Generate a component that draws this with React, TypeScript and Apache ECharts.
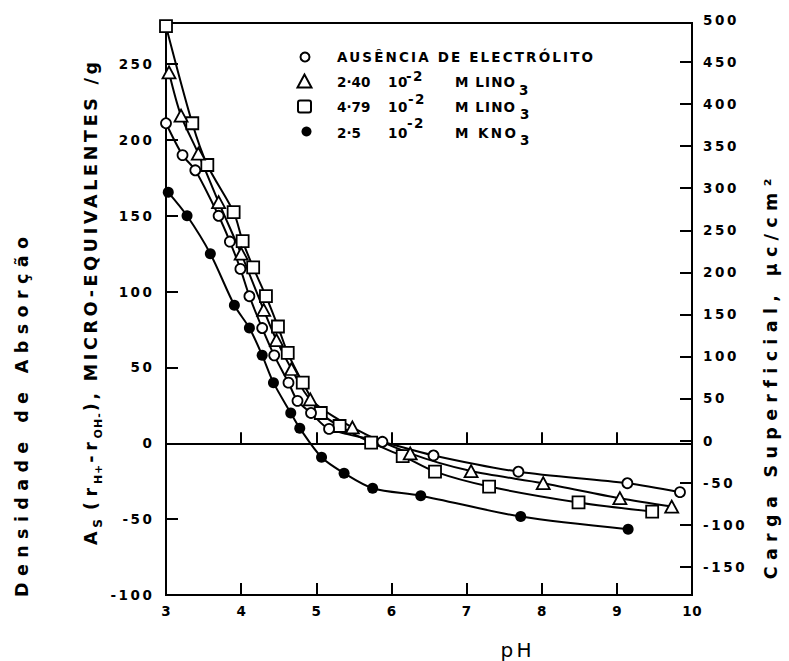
import React, { useEffect, useRef } from "react";
import * as echarts from "echarts";

// ---------- data ----------
const ausPH = [3.0, 3.22, 3.39, 3.7, 3.85, 3.99, 4.11, 4.28, 4.44, 4.63, 4.75, 4.93, 5.17, 5.88, 6.56, 7.69, 9.14, 9.84];
const ausVal = [211, 190, 180, 150, 133, 115, 97, 76, 58, 40, 28, 20, 9.5, 1, -8, -18.7, -26.3, -32.2];

const li240PH = [3.04, 3.2, 3.43, 3.7, 4.0, 4.3, 4.47, 4.67, 4.92, 5.48, 6.25, 7.06, 8.02, 9.04, 9.73];
const li240Val = [244.5, 216, 191, 159, 125, 88, 68, 49, 29, 10.5, -6.6, -18.3, -26.3, -36.2, -41.7];

const li479PH = [3.0, 3.35, 3.55, 3.9, 4.02, 4.16, 4.33, 4.49, 4.62, 4.82, 5.06, 5.31, 5.73, 6.15, 6.58, 7.3, 8.49, 9.47];
const li479Val = [275, 211, 183.5, 152.4, 133.3, 116, 97, 77, 59.6, 40, 20, 11.4, 0.4, -8.4, -18.7, -28.5, -39, -45];

const kPH = [3.03, 3.28, 3.59, 3.91, 4.11, 4.28, 4.43, 4.66, 4.78, 5.07, 5.37, 5.75, 6.39, 7.72, 9.15];
const kVal = [165.5, 150, 125, 91, 76, 58, 40, 20, 10, -9.2, -19.7, -29.6, -34.5, -48.3, -56.6];

const xTicks = [3, 4, 5, 6, 7, 8, 9, 10];
const leftTicks = [-100, -50, 0, 50, 100, 150, 200, 250];
const rightTickValues = [-150, -100, -50, 0, 50, 100, 150, 200, 250, 300, 350, 400, 450];
const rightLabelValues = [-150, -100, -50, 0, 50, 100, 150, 200, 250, 300, 350, 400, 450, 500];

const legendNames = ["AUSÊNCIA DE ELECTRÓLITO", "2·40 10-2 M LINO3", "4·79 10-2 M LINO3", "2·5 10-2 M KNO3"];
const titleLeft1 = "Densidade de Absorção";
const titleRight = "Carga Superficial, μc/cm²";
const titleX = "pH";

// ---------- styling helpers ----------
const FONT = "DejaVu Sans";
const BLACK = "#000";
const spacing = new Map<string, number>();
const NUM_SPACING = 2.6;
const NUM_SIZE = 13.5;

let ctx: CanvasRenderingContext2D | null = null;
function measure(text: string, size: number, weight = "bold", family = FONT) {
  if (!ctx) ctx = document.createElement("canvas").getContext("2d");
  ctx!.font = `${weight} ${size}px "${family}"`;
  return ctx!.measureText(text).width;
}
function fit(text: string, size: number, target: number, weight = "bold") {
  const w = measure(text, size, weight);
  const n = Array.from(text).length;
  const s = Math.max(0, (target - w) / Math.max(1, n - 1));
  spacing.set(text, s);
  return s;
}

// letter-spacing is not an ECharts text option, so it is added to the SVG texts
// afterwards; end / middle anchored texts are re-anchored so that they stay in place.
function applySpacing(root: HTMLElement) {
  root.querySelectorAll("text").forEach((t: any) => {
    if (t.getAttribute("data-ls")) return;
    const s = t.textContent ?? "";
    let ls = spacing.get(s);
    if (ls == null && /^-?\d\d+$/.test(s)) ls = NUM_SPACING;
    if (ls == null || ls === 0) return;
    t.setAttribute("data-ls", "1");
    const anchor = t.getAttribute("text-anchor") || t.style.textAnchor || "start";
    t.setAttribute("letter-spacing", String(ls));
    if (anchor === "end" || anchor === "middle") {
      const len = t.getComputedTextLength() - ls;
      const shift = anchor === "end" ? len : len / 2;
      const x0 = parseFloat(t.getAttribute("x") || "0");
      t.setAttribute("x", String(x0 - shift));
      t.setAttribute("text-anchor", "start");
      t.style.textAnchor = "start";
    }
  });
}

function txt(text: string, x: number, y: number, size: number, opts: any = {}) {
  return {
    type: "text",
    x,
    y,
    rotation: opts.rotation ?? 0,
    silent: true,
    style: {
      text,
      fill: BLACK,
      fontFamily: FONT,
      fontSize: size,
      fontWeight: opts.weight ?? "bold",
      align: opts.align ?? "left",
      verticalAlign: "middle",
    },
  };
}

function buildGraphics() {
  const g: any[] = [];
  // legend markers
  g.push({ type: "circle", silent: true, shape: { cx: 305, cy: 57, r: 4.5 }, style: { fill: "#fff", stroke: BLACK, lineWidth: 2 } });
  g.push({ type: "polygon", silent: true, shape: { points: [[304.5, 74.5], [297.5, 87.5], [311.5, 87.5]] }, style: { fill: "#fff", stroke: BLACK, lineWidth: 2 } });
  g.push({ type: "rect", silent: true, shape: { x: 298, y: 100.5, width: 13, height: 12, r: 2 }, style: { fill: "#fff", stroke: BLACK, lineWidth: 2 } });
  g.push({ type: "circle", silent: true, shape: { cx: 306.5, cy: 131.5, r: 5 }, style: { fill: BLACK } });

  // legend texts
  const LS = 13.5;
  fit("AUSÊNCIA DE ELECTRÓLITO", LS, 256);
  fit("2·40", LS, 33);
  fit("4·79", LS, 33);
  fit("2·5", LS, 21);
  spacing.set("10", 0.5);
  spacing.set("-2", 1.5);
  fit("M LINO", LS, 60);
  fit("M KNO", LS, 61);
  g.push(txt("AUSÊNCIA DE ELECTRÓLITO", 337, 57, LS));
  const rows = [
    { a: "2·40", b: "M LINO", y: 82, sup: 75.5, sub: 89.5, supX: 406, subX: 519 },
    { a: "4·79", b: "M LINO", y: 107, sup: 99, sub: 114, supX: 408, subX: 520 },
    { a: "2·5", b: "M KNO", y: 133, sup: 123, sub: 140, supX: 407, subX: 520 },
  ];
  rows.forEach((r) => {
    g.push(txt(r.a, 337, r.y, LS));
    g.push(txt("10", 388, r.y, LS));
    g.push(txt("-2", r.supX, r.sup, LS));
    g.push(txt(r.b, 455, r.y, LS));
    g.push(txt("3", r.subX, r.sub, LS));
  });

  // axis titles
  const TS = 17.5;
  fit(titleLeft1, TS, 360);
  g.push(txt(titleLeft1, 22, 417, TS, { rotation: Math.PI / 2, align: "center" }));
  fit(titleRight, TS, 400);
  g.push(txt(titleRight, 771, 379, TS, { rotation: Math.PI / 2, align: "center" }));
  fit(titleX, 20, 31, "normal");
  g.push(txt(titleX, 516, 650, 20, { weight: "normal", align: "center" }));

  // second left title with subscripts, laid out piece by piece
  const pieces = [
    { t: "A", size: TS, sub: false, gap: 0 },
    { t: "S", size: 12, sub: true, gap: 0 },
    { t: "(", size: TS, sub: false, gap: 8 },
    { t: "r", size: TS, sub: false, gap: 2 },
    { t: "H+", size: 11, sub: true, gap: 0 },
    { t: "-", size: TS, sub: false, gap: 1 },
    { t: "r", size: TS, sub: false, gap: 1 },
    { t: "OH-", size: 11, sub: true, gap: 0 },
    { t: "),", size: TS, sub: false, gap: 1 },
    { t: "MICRO-EQUIVALENTES /g", size: TS, sub: false, gap: 8 },
  ];
  const subS = 1;
  const yStart = 545;
  const yEnd = 62;
  let base = 0;
  let mainChars = 0;
  pieces.forEach((p) => {
    const n = Array.from(p.t).length;
    base += measure(p.t, p.size) + p.gap;
    if (p.sub) base += subS * n;
    else mainChars += n;
  });
  mainChars -= 1;
  const mainS = Math.max(0, (yStart - yEnd - base) / mainChars);
  let y = yStart;
  pieces.forEach((p) => {
    const ls = p.sub ? subS : mainS;
    spacing.set(p.t, ls);
    y -= p.gap;
    g.push(txt(p.t, 91 + (p.sub ? 7 : 0), y, p.size, { rotation: Math.PI / 2 }));
    y -= measure(p.t, p.size) + ls * Array.from(p.t).length;
  });
  return g;
}

function pairs(xs: number[], ys: number[]) {
  return xs.map((x, i) => [x, ys[i]]);
}

function buildOption() {
  const axisFont = { color: BLACK, fontFamily: FONT, fontWeight: "bold", fontSize: NUM_SIZE };
  const lineAxis = { color: BLACK, width: 2 };
  const mkSeries = (name: string, data: number[][], symbol: string, size: any, filled: boolean) => ({
    name,
    type: "line",
    xAxisIndex: 0,
    yAxisIndex: 0,
    data,
    smooth: 0.3,
    symbol,
    symbolSize: size,
    showAllSymbol: true,
    silent: true,
    emphasis: { disabled: true },
    lineStyle: { color: BLACK, width: 2 },
    itemStyle: { color: filled ? BLACK : "#fff", borderColor: BLACK, borderWidth: filled ? 0 : 1.8, opacity: 1 },
  });
  return {
    animation: false,
    backgroundColor: "#fff",
    grid: [
      { left: 166, right: 97, top: 23, bottom: 66, show: true, borderColor: BLACK, borderWidth: 2, backgroundColor: "transparent" },
      { left: 166, right: 97, top: 20, bottom: 94.3, show: false },
    ],
    xAxis: [
      {
        gridIndex: 0, type: "value", min: xTicks[0], max: xTicks[xTicks.length - 1], interval: 1, position: "bottom",
        axisLine: { onZero: false, lineStyle: lineAxis },
        axisTick: { inside: true, length: 12, lineStyle: lineAxis },
        axisLabel: { margin: 9, ...axisFont },
        splitLine: { show: false },
      },
      {
        gridIndex: 0, type: "value", min: xTicks[0], max: xTicks[xTicks.length - 1], interval: 1, position: "bottom",
        axisLine: { onZero: true, lineStyle: lineAxis },
        axisTick: { inside: true, length: 11, lineStyle: lineAxis },
        axisLabel: { show: false },
        splitLine: { show: false },
      },
      { gridIndex: 1, type: "value", min: 3, max: 10, show: false },
    ],
    yAxis: [
      {
        gridIndex: 0, type: "value", min: leftTicks[0], max: 277.1, interval: 50, position: "left",
        axisLine: { onZero: false, lineStyle: lineAxis },
        axisTick: { inside: true, length: 12, lineStyle: lineAxis },
        axisLabel: { margin: 14, showMaxLabel: false, ...axisFont },
        splitLine: { show: false },
      },
      {
        gridIndex: 1, type: "value", min: rightLabelValues[0], max: rightLabelValues[rightLabelValues.length - 1], interval: 50, position: "right",
        axisLine: { show: false, onZero: false },
        axisTick: { show: true, inside: true, length: 12, lineStyle: lineAxis, customValues: rightTickValues },
        axisLabel: { margin: 11, customValues: rightLabelValues, ...axisFont },
        splitLine: { show: false },
      },
    ],
    series: [
      mkSeries(legendNames[3], pairs(kPH, kVal), "circle", 11, true),
      mkSeries(legendNames[2], pairs(li479PH, li479Val), "rect", 12, false),
      mkSeries(legendNames[1], pairs(li240PH, li240Val), "triangle", [13, 12], false),
      mkSeries(legendNames[0], pairs(ausPH, ausVal), "circle", 10, false),
      { type: "scatter", xAxisIndex: 2, yAxisIndex: 1, data: [], silent: true },
    ],
    graphic: buildGraphics(),
  };
}

export default function App() {
  const ref = useRef<HTMLDivElement>(null);
  useEffect(() => {
    const el = ref.current!;
    const chart = echarts.init(el, undefined, { renderer: "svg", width: 789, height: 661 });
    chart.setOption(buildOption() as any);
    const apply = () => applySpacing(el);
    apply();
    chart.on("finished", apply);
    const t = setTimeout(apply, 30);
    const t2 = setTimeout(apply, 200);
    return () => {
      clearTimeout(t);
      clearTimeout(t2);
      chart.dispose();
    };
  }, []);
  return <div ref={ref} style={{ position: "absolute", left: 0, top: 0, width: 789, height: 661 }} />;
}
